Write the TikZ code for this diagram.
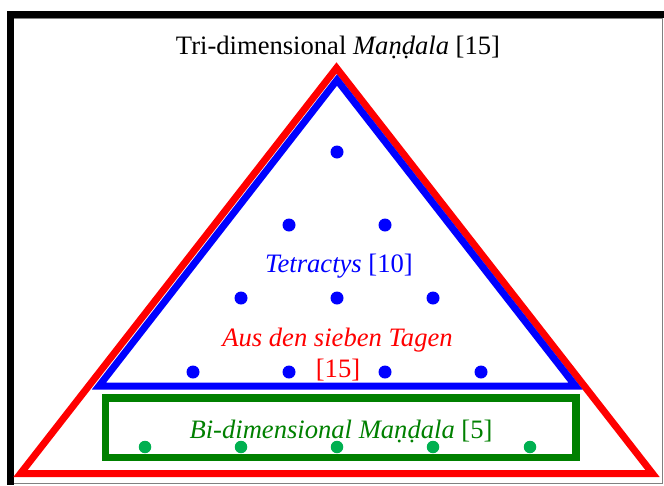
\documentclass[tikz,border=0pt]{standalone}
\usepackage{fontspec}
\setmainfont{Liberation Serif}
\definecolor{dkgreen}{RGB}{0,128,0}
\definecolor{dotgreen}{RGB}{0,176,80}
\tikzset{
  lbl/.style={anchor=base, inner sep=0pt, font=\fontsize{26.6}{31}\selectfont},
  bdot/.style={circle, fill=blue, inner sep=0pt, minimum size=13pt},
  gdot/.style={circle, fill=dotgreen, inner sep=0pt, minimum size=12.5pt},
  tri/.style={line width=7pt, line join=miter, miter limit=10}
}
\begin{document}
\begin{tikzpicture}[x=1pt,y=-1pt]
\useasboundingbox (0,0) rectangle (664,485);
% frame
\fill[black] (7,11) rectangle (14,485);
\fill[black] (7,11) rectangle (664,17.5);
\draw[gray, line width=1pt] (14,18) -- (662,18) -- (662,483.5) -- (14,483.5);
% red triangle
\coordinate (ra) at (336.5,68);
\coordinate (rl) at (20.5,473.5);
\coordinate (rr) at (652.5,473.5);
\draw[tri, red] (ra) -- (rl) -- (rr) -- cycle;
% blue triangle
\coordinate (ba) at (337,80);
\coordinate (bl) at (99,386);
\coordinate (br) at (575.5,386);
\draw[tri, blue] (ba) -- (bl) -- (br) -- cycle;
% green rectangle
\coordinate (g1) at (105.5,398);
\coordinate (g2) at (576,457.5);
\draw[dkgreen, line width=7.5pt] (g1) rectangle (g2);
% blue dots
\node[bdot] (d1) at (337,152) {};
\node[bdot] (d2) at (289,225) {};
\node[bdot] (d3) at (385,225) {};
\node[bdot] (d4) at (241,298) {};
\node[bdot] (d5) at (337,298) {};
\node[bdot] (d6) at (433,298) {};
\node[bdot] (d7) at (193,372) {};
\node[bdot] (d8) at (289,372) {};
\node[bdot] (d9) at (385,372) {};
\node[bdot] (d10) at (481,372) {};
% green dots
\node[gdot] (e1) at (145,447) {};
\node[gdot] (e2) at (241,447) {};
\node[gdot] (e3) at (337,447) {};
\node[gdot] (e4) at (433,447) {};
\node[gdot] (e5) at (530,447) {};
% labels
\node[lbl] (title) at (338,54) {Tri-dimensional \textit{Maṇḍala} [15]};
\node[lbl, blue] (tetr) at (339,272) {\textit{Tetractys} [10]};
\node[lbl, red] (aus) at (337.5,346) {\textit{Aus den sieben Tagen}};
\node[lbl, red] (aus2) at (338,377) {[15]};
\node[lbl, dkgreen] (bi) at (341,438) {\textit{Bi-dimensional Maṇḍala} [5]};
\end{tikzpicture}
\end{document}
